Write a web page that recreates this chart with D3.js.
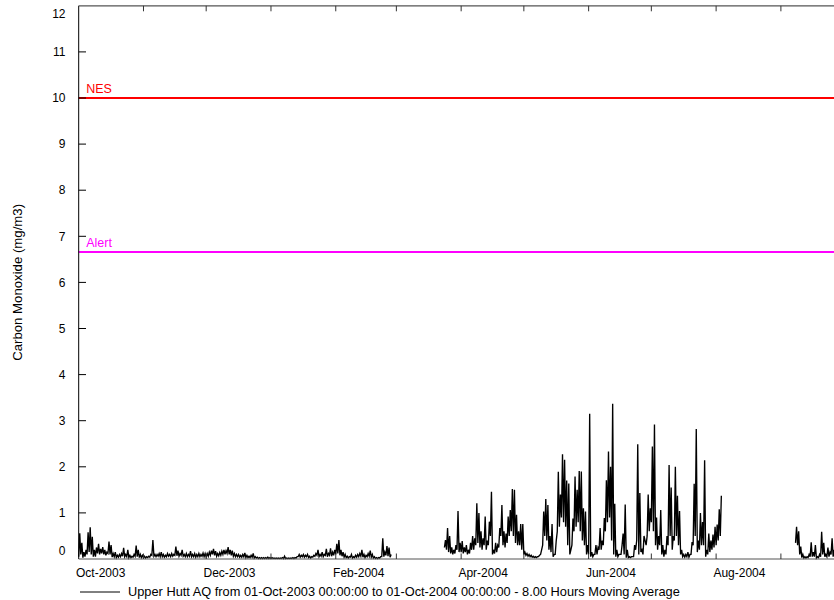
<!DOCTYPE html>
<html>
<head>
<meta charset="utf-8">
<script src="https://cdn.jsdelivr.net/npm/d3@7/dist/d3.min.js"></script>
<style>
  html, body { margin: 0; padding: 0; background: #fff; }
  svg { display: block; font-family: "Liberation Sans", Arial, sans-serif; }
</style>
</head>
<body>
<svg id="chart" width="834" height="600"></svg>
<script>
// ---- Data (8-hour moving average CO, mg/m3), read per day: [night peak], [daily low] ----
const startDate = Date.UTC(2003, 9, 1);
const endDate = Date.UTC(2004, 9, 1);

const peakOct2003 = [0.56,0.35,0.15,0.2,0.58,0.69,0.48,0.2,0.25,0.33,0.22,0.26,0.2,0.15,0.38,0.3,0.12,0.15,0.08,0.1,0.12,0.24,0.1,0.2,0.08,0.06,0.1,0.29,0.2,0.1,0.08];
const lowOct2003  = [0.05,0.1,0.03,0.05,0.1,0.15,0.1,0.05,0.05,0.12,0.1,0.12,0.1,0.08,0.12,0.1,0.04,0.05,0.03,0.04,0.05,0.06,0.05,0.05,0.03,0.03,0.04,0.06,0.05,0.03,0.03];
const peakNov2003 = [0.06,0.05,0.06,0.1,0.41,0.1,0.1,0.12,0.15,0.1,0.08,0.12,0.1,0.12,0.1,0.27,0.18,0.12,0.2,0.1,0.12,0.1,0.17,0.1,0.12,0.1,0.12,0.1,0.13,0.12];
const lowNov2003  = [0.03,0.02,0.03,0.04,0.08,0.06,0.05,0.06,0.05,0.05,0.04,0.05,0.06,0.05,0.06,0.08,0.07,0.06,0.08,0.06,0.05,0.05,0.06,0.05,0.05,0.04,0.05,0.05,0.06,0.05];
const peakDec2003 = [0.12,0.15,0.18,0.22,0.17,0.12,0.14,0.17,0.2,0.18,0.26,0.2,0.18,0.12,0.1,0.1,0.08,0.1,0.13,0.08,0.06,0.08,0.12,0.05,0.04,0.03,0.03,0.03,0.03,0.04,0.03];
const lowDec2003  = [0.05,0.06,0.08,0.1,0.08,0.06,0.07,0.08,0.1,0.1,0.12,0.1,0.08,0.06,0.05,0.05,0.04,0.04,0.05,0.03,0.03,0.03,0.04,0.02,0.02,0.01,0.01,0.01,0.01,0.01,0.01];
const peakJan2004 = [0.03,0.02,0.02,0.02,0.02,0.03,0.06,0.02,0.02,0.02,0.03,0.03,0.05,0.1,0.08,0.1,0.08,0.1,0.06,0.05,0.08,0.12,0.2,0.1,0.15,0.1,0.22,0.12,0.23,0.15,0.2];
const lowJan2004  = [0.01,0.01,0.01,0.01,0.01,0.01,0.01,0.01,0.01,0.01,0.01,0.01,0.02,0.05,0.04,0.05,0.04,0.05,0.03,0.02,0.04,0.06,0.08,0.05,0.06,0.05,0.08,0.05,0.08,0.06,0.08];
const peakFeb2004 = [0.33,0.41,0.2,0.15,0.1,0.06,0.05,0.1,0.05,0.08,0.1,0.12,0.2,0.1,0.08,0.12,0.18,0.1,0.05,0.03,0.03,0.05,0.45,0.15,0.28,0.25,0.1,null,null];
const lowFeb2004  = [0.1,0.12,0.08,0.06,0.04,0.03,0.02,0.04,0.02,0.03,0.04,0.05,0.06,0.04,0.03,0.05,0.06,0.04,0.02,0.01,0.01,0.02,0.05,0.05,0.08,0.06,0.04,null,null];
const peakMar2004 = [null,null,null,null,null,null,null,null,null,null,null,null,null,null,null,null,null,null,null,null,null,null,null,0.41,0.67,0.5,0.25,0.2,0.3,1.04,0.35];
const lowMar2004  = [null,null,null,null,null,null,null,null,null,null,null,null,null,null,null,null,null,null,null,null,null,null,null,0.25,0.2,0.15,0.12,0.1,0.12,0.2,0.15];
const peakApr2004 = [0.39,0.25,0.3,0.2,0.35,0.5,0.45,1.21,1.0,0.6,0.45,0.92,0.4,0.81,1.46,0.2,0.35,0.3,0.67,1.17,0.6,0.55,0.92,1.06,1.52,1.5,0.96,0.6,0.76,0.76];
const lowApr2004  = [0.15,0.12,0.15,0.1,0.12,0.2,0.2,0.3,0.35,0.25,0.2,0.3,0.2,0.3,0.5,0.1,0.12,0.15,0.25,0.5,0.3,0.25,0.35,0.5,0.6,0.5,0.35,0.3,0.3,0.2];
const peakMay2004 = [0.15,0.12,0.1,0.08,0.06,0.05,0.05,0.08,0.2,1.03,1.3,1.17,0.5,0.76,0.1,0.4,1.89,1.4,2.27,2.15,1.7,1.64,0.2,0.88,1.79,1.5,1.91,1.9,1.1,1.03,0.3];
const lowMay2004  = [0.1,0.08,0.06,0.05,0.04,0.03,0.03,0.05,0.1,0.3,0.5,0.4,0.2,0.15,0.05,0.1,0.6,0.7,0.9,0.8,0.7,0.3,0.1,0.3,0.6,0.7,0.8,0.6,0.4,0.3,0.1];
const peakJun2004 = [3.15,0.15,0.1,0.3,0.25,0.67,0.4,0.89,1.71,2.33,2.0,3.37,1.2,0.2,0.1,0.1,0.55,1.18,0.2,0.05,0.05,0.05,0.2,2.49,1.43,0.2,0.5,0.3,1.4,1.1];
const lowJun2004  = [0.1,0.05,0.05,0.1,0.1,0.2,0.2,0.3,0.6,0.8,0.9,0.4,0.1,0.05,0.05,0.1,0.3,0.1,0.03,0.03,0.03,0.05,0.3,0.4,0.1,0.15,0.1,0.4,0.5,0.6];
const peakJul2004 = [2.44,2.92,0.9,0.5,1.06,0.3,0.2,0.5,2.04,1.55,0.5,2.0,1.37,1.04,0.2,0.1,0.1,0.15,0.1,0.37,1.63,2.82,0.4,1.0,0.8,2.14,0.2,0.55,0.4,0.53,0.7];
const lowJul2004  = [0.8,0.6,0.3,0.2,0.3,0.1,0.05,0.1,0.3,0.5,0.2,0.4,0.5,0.3,0.1,0.05,0.04,0.05,0.04,0.1,0.3,0.5,0.15,0.2,0.3,0.3,0.05,0.1,0.15,0.2,0.25];
const peakAug2004 = [0.75,1.08,1.37,null,null,null,null,null,null,null,null,null,null,null,null,null,null,null,null,null,null,null,null,null,null,null,null,null,null,null,null];
const lowAug2004  = [0.3,0.4,0.5,null,null,null,null,null,null,null,null,null,null,null,null,null,null,null,null,null,null,null,null,null,null,null,null,null,null,null,null];
const peakSep2004 = [null,null,null,null,null,null,null,0.7,0.6,0.27,0.1,0.05,0.05,0.1,0.36,0.15,0.3,0.05,0.1,0.59,0.35,0.1,0.25,0.15,0.45,0.2,0.3,0.2,0.25,0.2];
const lowSep2004  = [null,null,null,null,null,null,null,0.35,0.3,0.1,0.03,0.02,0.02,0.03,0.05,0.05,0.05,0.02,0.03,0.05,0.1,0.05,0.05,0.05,0.1,0.05,0.05,0.05,0.05,0.05];

const dailyPeak = [].concat(peakOct2003, peakNov2003, peakDec2003, peakJan2004, peakFeb2004, peakMar2004,
  peakApr2004, peakMay2004, peakJun2004, peakJul2004, peakAug2004, peakSep2004);
const dailyLow = [].concat(lowOct2003, lowNov2003, lowDec2003, lowJan2004, lowFeb2004, lowMar2004,
  lowApr2004, lowMay2004, lowJun2004, lowJul2004, lowAug2004, lowSep2004);

const yTicks = [0,1,2,3,4,5,6,7,8,9,10,11,12];
const limitLines = [
  { name: "NES", value: 10, color: "#ff0000" },
  { name: "Alert", value: 6.67, color: "#ff00ff" }
];
const yTitle = "Carbon Monoxide (mg/m3)";
const legendText = "Upper Hutt AQ from 01-Oct-2003 00:00:00 to 01-Oct-2004 00:00:00 - 8.00 Hours Moving Average";

// ---- Build series ----
const DAY = 86400000;
const series = [];
dailyPeak.forEach((p, i) => {
  const lo = dailyLow[i];
  series.push({ t: new Date(startDate + i * DAY), v: lo });
  series.push({ t: new Date(startDate + i * DAY + DAY / 2), v: p });
});

// ---- Layout ----
const svg = d3.select("#chart");
const plotLeft = 78.7, plotRight = 843.6, plotTop = 5.8, plotBottom = 559;

const x = d3.scaleUtc().domain([new Date(startDate), new Date(endDate)]).range([plotLeft, plotRight]);
const y = d3.scaleLinear().domain([0, 12]).range([plotBottom, plotTop]);

const fontSize = 12;

// Limit lines
limitLines.forEach(l => {
  const yy = Math.round(y(l.value));
  svg.append("line")
    .attr("x1", plotLeft).attr("x2", 834)
    .attr("y1", yy).attr("y2", yy)
    .attr("stroke", l.color).attr("stroke-width", 1.8);
  svg.append("text")
    .attr("x", plotLeft + 7.5).attr("y", y(l.value) - 5)
    .attr("fill", l.color).attr("font-size", 12.5)
    .text(l.name);
});

// Data line
const line = d3.line()
  .defined(d => d.v !== null && d.v !== undefined)
  .x(d => x(d.t))
  .y(d => y(d.v));

svg.append("path")
  .datum(series)
  .attr("fill", "none")
  .attr("stroke", "#000")
  .attr("stroke-width", 1.35)
  .attr("stroke-linejoin", "miter")
  .attr("d", line);

// Frame: left, top, bottom
svg.append("line").attr("x1", plotLeft).attr("x2", plotLeft).attr("y1", plotTop).attr("y2", plotBottom)
  .attr("stroke", "#000").attr("stroke-width", 1);
svg.append("line").attr("x1", plotLeft).attr("x2", 834).attr("y1", plotTop).attr("y2", plotTop)
  .attr("stroke", "#555").attr("stroke-width", 1.2);
svg.append("line").attr("x1", plotLeft).attr("x2", 834).attr("y1", plotBottom).attr("y2", plotBottom)
  .attr("stroke", "#555").attr("stroke-width", 1.2);

// Month ticks (top, pointing down; bottom, pointing up)
const months = d3.utcMonth.range(new Date(startDate), new Date(endDate + 1));
months.slice(1).forEach(m => {
  svg.append("line").attr("x1", x(m)).attr("x2", x(m)).attr("y1", plotTop).attr("y2", plotTop + 5.5)
    .attr("stroke", "#333").attr("stroke-width", 1);
  svg.append("line").attr("x1", x(m)).attr("x2", x(m)).attr("y1", plotBottom).attr("y2", plotBottom - 5.5)
    .attr("stroke", "#333").attr("stroke-width", 1);
});

// X labels every other month
const fmt = d3.utcFormat("%b-%Y");
months.filter((m, i) => i % 2 === 0 && m < new Date(endDate)).forEach(m => {
  svg.append("text")
    .attr("x", x(m) - 2.7).attr("y", 577)
    .attr("font-size", fontSize).attr("fill", "#000")
    .text(fmt(m));
});

// Y axis ticks and labels
yTicks.forEach((t, i) => {
  if (t > 0 && t < 12) {
    svg.append("line").attr("x1", plotLeft).attr("x2", plotLeft + 7.3).attr("y1", y(t)).attr("y2", y(t))
      .attr("stroke", "#000").attr("stroke-width", 1);
  }
  let yy = y(t);
  if (i === 0) yy -= 8;
  if (i === yTicks.length - 1) yy += 8;
  svg.append("text")
    .attr("x", 65.5).attr("y", yy).attr("dy", "0.35em")
    .attr("text-anchor", "end").attr("font-size", fontSize).attr("fill", "#000")
    .text(t);
});

// Y title
svg.append("text")
  .attr("transform", `translate(22, ${(plotTop + plotBottom) / 2}) rotate(-90)`)
  .attr("text-anchor", "middle").attr("font-size", 13.2).attr("fill", "#000")
  .text(yTitle);

// Legend
svg.append("line").attr("x1", 80).attr("x2", 120).attr("y1", 592).attr("y2", 592)
  .attr("stroke", "#000").attr("stroke-width", 1);
svg.append("text").attr("x", 128).attr("y", 596)
  .attr("font-size", 12.8).attr("fill", "#000")
  .text(legendText);
</script>
</body>
</html>
